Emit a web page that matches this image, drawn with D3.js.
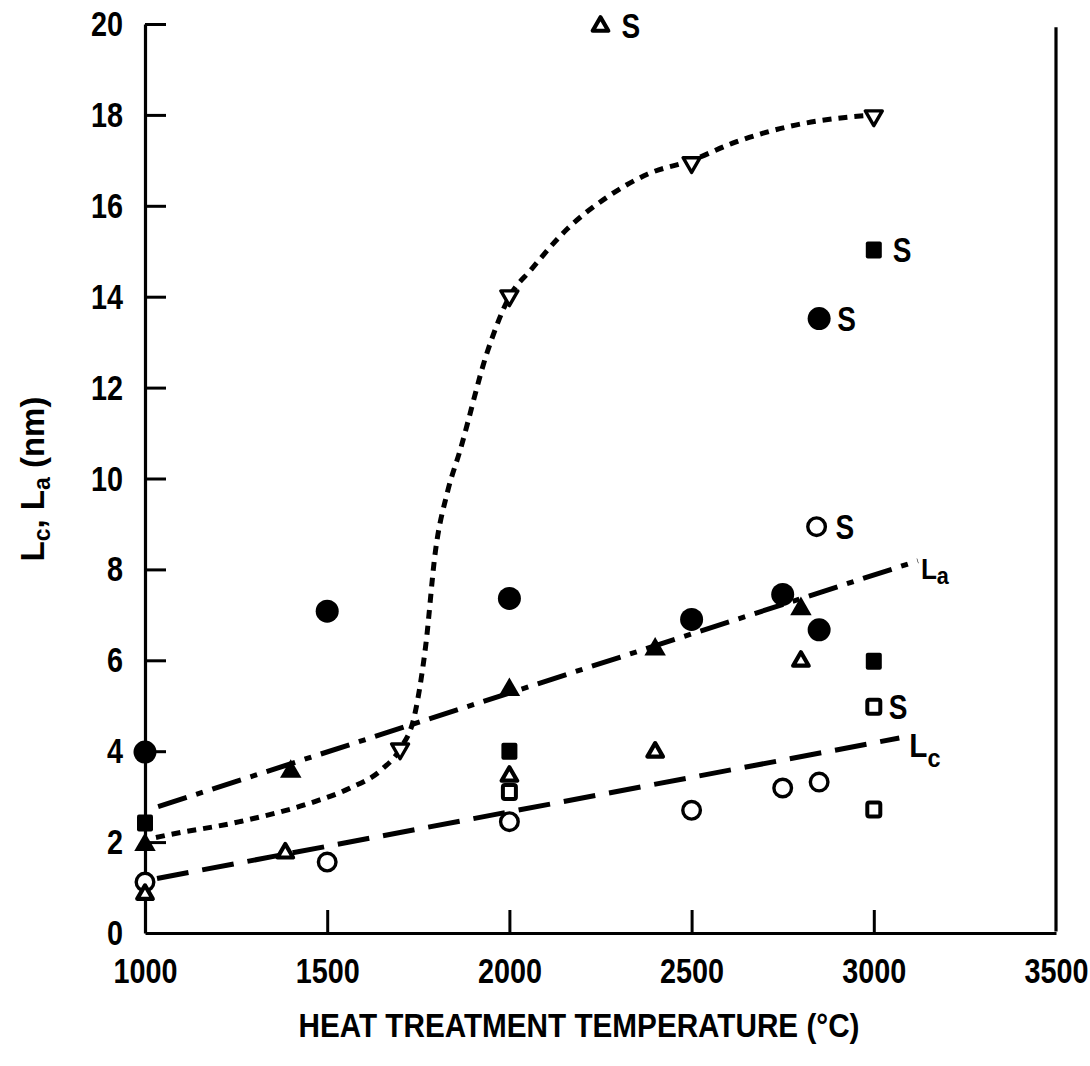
<!DOCTYPE html>
<html><head><meta charset="utf-8">
<script src="https://cdn.jsdelivr.net/npm/d3@7"></script>
<style>
html,body{margin:0;padding:0;background:#fff;}
.tick text{font-family:"Liberation Sans",Arial,sans-serif;font-weight:bold;font-size:36px;fill:#000;}
</style></head>
<body><svg id="c" width="1090" height="1066"></svg>
<script>
// ---- data ----
const xTicks = [1000,1500,2000,2500,3000,3500];
const yTicks = [0,2,4,6,8,10,12,14,16,18,20];

const filledCircleX = [1000,1500,2000,2500,2750,2850,2850];
const filledCircleY = [3.98,7.08,7.36,6.9,7.45,6.67,13.52];
const filledCircleS = [0,0,0,0,0,0,1];

const openCircleX = [1000,1500,2000,2500,2750,2850,2843];
const openCircleY = [1.12,1.56,2.45,2.7,3.19,3.32,8.94];
const openCircleS = [0,0,0,0,0,0,1];

const filledTriX = [1000,1400,2000,2400,2800];
const filledTriY = [1.94,3.55,5.35,6.24,7.13];

const openTriX = [1000,1385,2000,2400,2800,2250];
const openTriY = [0.85,1.76,3.45,3.98,5.98,19.95];
const openTriS = [0,0,0,0,0,1];

const openInvTriX = [1700,2000,2500,3000];
const openInvTriY = [4.05,14.02,16.95,17.98];

const filledSqX = [1000,2000,3000,3000];
const filledSqY = [2.42,4.0,5.98,15.03];
const filledSqS = [0,0,0,1];

const openSqX = [2000,3000,3000];
const openSqY = [3.1,2.72,4.98];
const openSqS = [0,0,1];

// fitted curves
const dottedCurveX = [1030,1041,1260,1450,1560,1650,1700,1740,1758,1770,1797,1830,1864,1940,2000,2060,2160,2270,2380,2500,2620,2770,2940,3000];
const dottedCurveY = [2.1,2.12,2.45,2.85,3.18,3.6,4.05,4.8,5.6,6.3,8.4,9.7,10.6,12.8,14.0,14.6,15.5,16.2,16.7,17.0,17.4,17.75,17.96,18.0];
const lineLaX = [1036,3121];
const lineLaY = [2.78,8.19];
const lineLcX = [1033,3070];
const lineLcY = [1.2,4.29];

// ---- drawing ----
const svg = d3.select("#c");
const x = d3.scaleLinear().domain([1000,3500]).range([145,1056]);
const y = d3.scaleLinear().domain([0,20]).range([933,24]);
const SX = 0.8; // horizontal condensing of the narrow lettering

// axes
const gx = svg.append("g").attr("transform","translate(0,933)")
  .call(d3.axisBottom(x).tickValues(xTicks).tickSize(-23).tickSizeOuter(0).tickPadding(24).tickFormat(d3.format("d")));
const gy = svg.append("g").attr("transform","translate(145,0)")
  .call(d3.axisLeft(y).tickValues(yTicks).tickSize(-21).tickSizeOuter(0).tickPadding(22).tickFormat(d3.format("d")));
[gx,gy].forEach(g=>{
  g.select(".domain").attr("stroke","#000").attr("stroke-width",3.2);
  g.selectAll(".tick line").attr("stroke","#000").attr("stroke-width",3);
  g.attr("font-family",null).attr("font-size",null);
  g.selectAll(".tick text").each(function(){
    const t = d3.select(this);
    const xv = +t.attr("x") || 0;
    t.attr("x", xv/SX).attr("transform",`scale(${SX},1)`);
  });
});
gx.selectAll(".tick").filter(d=>d===1000||d===3500).select("line").remove();
gy.selectAll(".tick").filter(d=>d===0).select("line").remove();
// right border
svg.append("line").attr("x1",x(3500)).attr("x2",x(3500)).attr("y1",y(19.93)).attr("y2",y(0)-1.5)
  .attr("stroke","#000").attr("stroke-width",3.2);

// fit lines
const line = d3.line().x(d=>x(d[0])).y(d=>y(d[1]));
svg.append("path").datum(d3.zip(lineLcX,lineLcY)).attr("d",line)
  .attr("fill","none").attr("stroke","#000").attr("stroke-width",5).attr("stroke-dasharray","32,14");
svg.append("path").datum(d3.zip(lineLaX,lineLaY)).attr("d",line)
  .attr("fill","none").attr("stroke","#000").attr("stroke-width",5).attr("stroke-dasharray","30,10,7,10");
svg.append("path").datum(d3.zip(dottedCurveX,dottedCurveY)).attr("d",line.curve(d3.curveMonotoneX))
  .attr("fill","none").attr("stroke","#000").attr("stroke-width",5).attr("stroke-dasharray","9,7").attr("stroke-linecap","butt");

const pts = (xs,ys,ss)=>xs.map((v,i)=>({x:v,y:ys[i],s:ss?ss[i]:0}));
const tr = d=>`translate(${x(d.x)},${y(d.y)})`;

// filled circles
svg.append("g").selectAll("circle").data(pts(filledCircleX,filledCircleY,filledCircleS)).join("circle")
  .attr("cx",d=>x(d.x)).attr("cy",d=>y(d.y)).attr("r",11.5).attr("fill","#000");
// open circles
svg.append("g").selectAll("circle").data(pts(openCircleX,openCircleY,openCircleS)).join("circle")
  .attr("cx",d=>x(d.x)).attr("cy",d=>y(d.y)).attr("r",8.8).attr("fill","#fff").attr("stroke","#000").attr("stroke-width",3.4);
// filled triangles
svg.append("g").selectAll("path").data(pts(filledTriX,filledTriY)).join("path")
  .attr("transform",tr).attr("d",d3.symbol(d3.symbolTriangle,200)).attr("fill","#000");
// open triangles
svg.append("g").selectAll("path").data(pts(openTriX,openTriY,openTriS)).join("path")
  .attr("transform",tr).attr("d",d3.symbol(d3.symbolTriangle,105)).attr("fill","#fff").attr("stroke","#000").attr("stroke-width",4.2).attr("stroke-linejoin","round");
// open inverted triangles
svg.append("g").selectAll("path").data(pts(openInvTriX,openInvTriY)).join("path")
  .attr("transform",d=>tr(d)+" rotate(180)").attr("d",d3.symbol(d3.symbolTriangle,125)).attr("fill","#fff").attr("stroke","#000").attr("stroke-width",3.4).attr("stroke-linejoin","round");
// filled squares
svg.append("g").selectAll("rect").data(pts(filledSqX,filledSqY,filledSqS)).join("rect")
  .attr("x",d=>x(d.x)-8).attr("y",d=>y(d.y)-8.5).attr("width",16).attr("height",17).attr("rx",2).attr("fill","#000");
// open squares
svg.append("g").selectAll("rect").data(pts(openSqX,openSqY,openSqS)).join("rect")
  .attr("x",d=>x(d.x)-6.5).attr("y",d=>y(d.y)-7).attr("width",13).attr("height",14).attr("rx",2)
  .attr("fill","#fff").attr("stroke","#000").attr("stroke-width",4);

// "S" labels
const sPts = [].concat(
  pts(filledCircleX,filledCircleY,filledCircleS).map(d=>({...d,dx:18})),
  pts(openCircleX,openCircleY,openCircleS).map(d=>({...d,dx:19})),
  pts(openTriX,openTriY,openTriS).map(d=>({...d,dx:21})),
  pts(filledSqX,filledSqY,filledSqS).map(d=>({...d,dx:19})),
  pts(openSqX,openSqY,openSqS).map(d=>({...d,dx:15}))
).filter(d=>d.s);
svg.append("g").selectAll("text").data(sPts).join("text")
  .attr("transform",d=>`translate(${x(d.x)+d.dx},${y(d.y)+12}) scale(${SX},1)`)
  .attr("font-family",'"Liberation Sans",Arial,sans-serif').attr("font-weight","bold").attr("font-size",35).text("S");

// line labels
function subLabel(px,py,main,sub,fs,sfs,sdy){
  const t = svg.append("text").attr("transform",`translate(${px},${py}) scale(0.9,1)`)
    .attr("font-family",'"Liberation Sans",Arial,sans-serif').attr("font-weight","bold").attr("font-size",fs);
  t.append("tspan").text(main);
  t.append("tspan").attr("dy",sdy).attr("font-size",sfs).text(sub);
}
subLabel(x(lineLaX[1])+3, y(lineLaY[1])+18, "L","a",29,24,5);
subLabel(x(lineLcX[1])+10, y(lineLcY[1])+19, "L","c",33,26,10);

// axis titles
svg.append("text").attr("transform","translate(579,1037) scale(0.9,1)").attr("text-anchor","middle")
  .attr("font-family",'"Liberation Sans",Arial,sans-serif').attr("font-weight","bold").attr("font-size",33)
  .text("HEAT TREATMENT TEMPERATURE (°C)");
const yt = svg.append("text").attr("transform","translate(44,479) rotate(-90)").attr("text-anchor","middle")
  .attr("font-family",'"Liberation Sans",Arial,sans-serif').attr("font-weight","bold").attr("font-size",33);
yt.append("tspan").text("L");
yt.append("tspan").attr("dy",6).attr("font-size",23).text("c");
yt.append("tspan").attr("dy",-6).text(", L");
yt.append("tspan").attr("dy",6).attr("font-size",23).text("a");
yt.append("tspan").attr("dy",-6).text(" (nm)");
</script></body></html>
